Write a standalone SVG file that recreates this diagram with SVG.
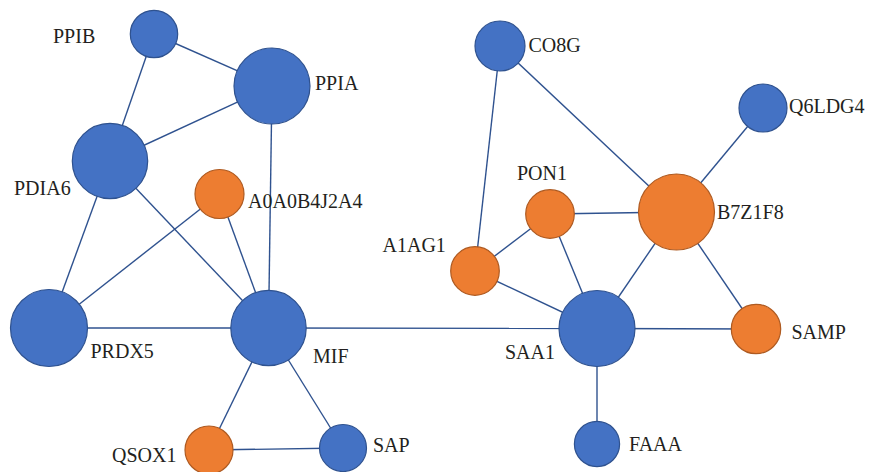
<svg xmlns="http://www.w3.org/2000/svg" width="870" height="472" viewBox="0 0 870 472">
<style>
.e{stroke:#2F528F;stroke-width:1.4;fill:none}
.b{fill:#4472C4;stroke:#2F528F;stroke-width:1.2}
.o{fill:#ED7D31;stroke:#AE5A21;stroke-width:1.2}
.t{font-family:'Liberation Serif','Times New Roman',serif;font-size:20px;fill:#231F20}
</style>
<rect width="870" height="472" fill="#fff"/>
<g id="connectors">
<line class="e" x1="154" y1="34" x2="272" y2="86"/>
<line class="e" x1="154" y1="34" x2="110" y2="161"/>
<line class="e" x1="272" y1="86" x2="110" y2="161"/>
<line class="e" x1="272" y1="86" x2="268.5" y2="328"/>
<line class="e" x1="110" y1="161" x2="49" y2="328"/>
<line class="e" x1="110" y1="161" x2="268.5" y2="328"/>
<line class="e" x1="219.5" y1="194" x2="49" y2="328"/>
<line class="e" x1="219.5" y1="194" x2="268.5" y2="328"/>
<line class="e" x1="49" y1="328" x2="268.5" y2="328"/>
<line class="e" x1="268.5" y1="328" x2="597" y2="328.5"/>
<line class="e" x1="268.5" y1="328" x2="209" y2="450"/>
<line class="e" x1="268.5" y1="328" x2="343" y2="448"/>
<line class="e" x1="209" y1="450" x2="343" y2="448"/>
<line class="e" x1="500" y1="46" x2="475" y2="271"/>
<line class="e" x1="500" y1="46" x2="676.5" y2="212"/>
<line class="e" x1="763" y1="108" x2="676.5" y2="212"/>
<line class="e" x1="550" y1="214" x2="676.5" y2="212"/>
<line class="e" x1="550" y1="214" x2="475" y2="271"/>
<line class="e" x1="550" y1="214" x2="597" y2="328.5"/>
<line class="e" x1="475" y1="271" x2="597" y2="328.5"/>
<line class="e" x1="676.5" y1="212" x2="597" y2="328.5"/>
<line class="e" x1="676.5" y1="212" x2="756" y2="329"/>
<line class="e" x1="597" y1="328.5" x2="756" y2="329"/>
<line class="e" x1="597" y1="328.5" x2="597" y2="444"/>
</g>
<g id="PPIB"><circle class="b" cx="154" cy="34" r="23.7"/><text class="t" x="53" y="43">PPIB</text></g>
<g id="PPIA"><circle class="b" cx="272" cy="86" r="38"/><text class="t" x="315" y="90">PPIA</text></g>
<g id="PDIA6"><circle class="b" cx="110" cy="161" r="37.7"/><text class="t" x="14" y="195">PDIA6</text></g>
<g id="A0A0B4J2A4"><circle class="o" cx="219.5" cy="194" r="24.5"/><text class="t" x="248" y="208">A0A0B4J2A4</text></g>
<g id="PRDX5"><circle class="b" cx="49" cy="328" r="38.5"/><text class="t" x="90.5" y="358">PRDX5</text></g>
<g id="MIF"><circle class="b" cx="268.5" cy="328" r="37.7"/><text class="t" x="313" y="363">MIF</text></g>
<g id="QSOX1"><circle class="o" cx="209" cy="450" r="24"/><text class="t" x="112" y="462">QSOX1</text></g>
<g id="SAP"><circle class="b" cx="343" cy="448" r="23.5"/><text class="t" x="373" y="452">SAP</text></g>
<g id="CO8G"><circle class="b" cx="500" cy="46" r="25"/><text class="t" x="528.5" y="52">CO8G</text></g>
<g id="Q6LDG4"><circle class="b" cx="763" cy="108" r="24"/><text class="t" x="789" y="113">Q6LDG4</text></g>
<g id="PON1"><circle class="o" cx="550" cy="214" r="24.3"/><text class="t" x="517" y="180">PON1</text></g>
<g id="B7Z1F8"><circle class="o" cx="676.5" cy="212" r="38"/><text class="t" x="717" y="219">B7Z1F8</text></g>
<g id="A1AG1"><circle class="o" cx="475" cy="271" r="24.3"/><text class="t" x="382.5" y="252">A1AG1</text></g>
<g id="SAA1"><circle class="b" cx="597" cy="328.5" r="38"/><text class="t" x="505" y="359">SAA1</text></g>
<g id="SAMP"><circle class="o" cx="756" cy="329" r="24.7"/><text class="t" x="791.5" y="339">SAMP</text></g>
<g id="FAAA"><circle class="b" cx="597" cy="444" r="22.6"/><text class="t" x="629" y="451">FAAA</text></g>
</svg>
